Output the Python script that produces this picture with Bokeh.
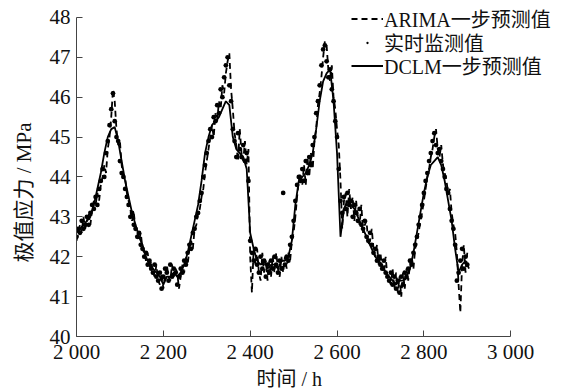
import numpy as np
from bokeh.plotting import figure
from bokeh.models import Range1d, FixedTicker, Legend, LegendItem, Title
from bokeh.embed import file_html
from bokeh.resources import INLINE

# ---- data ----
t_obs = np.arange(2000, 2901, 4)   # hours, 4 h sampling
observed = [
    42.5, 42.7, 42.6, 42.9, 42.7, 42.8, 43.0, 42.8, 43.1, 43.3,
    43.2, 43.5, 43.3, 43.7, 43.9, 44.2, 44.0, 44.6, 44.9, 45.3,
    45.7, 46.1, 45.4, 45.0, 44.9, 44.4, 44.1, 44.0, 43.7, 43.5,
    43.3, 43.0, 43.1, 42.8, 42.7, 42.5, 42.6, 42.3, 42.2, 42.0,
    42.1, 41.8, 41.9, 41.7, 41.6, 41.8, 41.5, 41.4, 41.6, 41.2,
    41.5, 41.7, 41.6, 41.4, 41.8, 41.5, 41.7, 41.6, 41.3, 41.5,
    41.7, 41.6, 41.9, 41.8, 42.1, 42.3, 42.2, 42.6, 42.7, 43.0,
    43.1, 43.4, 43.6, 44.0, 44.3, 44.6, 44.9, 45.2, 45.0, 45.5,
    45.4, 45.8, 45.6, 46.2, 46.0, 46.5, 46.8, 47.0, 46.3, 45.9,
    45.2, 44.9, 44.5, 45.1, 44.7, 44.5, 44.8, 44.4, 44.6, 43.9,
    42.4, 42.1, 41.9, 42.2, 41.8, 41.6, 42.0, 41.7, 41.9, 41.5,
    41.8, 41.6, 41.9, 41.7, 42.0, 41.8, 41.6, 41.9, 41.7, 43.6,
    41.8, 42.0, 41.9, 42.3, 42.5, 42.9, 43.4, 43.8, 44.0, 43.9,
    44.2, 43.9, 44.4, 44.1, 44.5, 44.3, 44.8, 45.0, 45.6, 45.9,
    46.3, 46.8, 47.2, 47.3, 46.9, 46.5, 46.7, 46.2, 45.9, 45.4,
    45.0, 44.2, 43.4, 43.1, 43.5, 43.2, 43.6, 43.3, 43.4, 43.0,
    43.3, 43.1, 42.9, 43.2, 42.8, 42.7, 42.9, 42.5, 42.4, 42.6,
    42.3, 42.1, 42.2, 41.9, 42.0, 41.8, 41.7, 41.9, 41.6, 41.5,
    41.4, 41.6, 41.3, 41.5, 41.2, 41.4, 41.1, 41.5, 41.3, 41.6,
    41.5, 41.7, 41.9, 41.8, 42.1, 42.3, 42.5, 42.8, 43.0, 43.3,
    43.6, 43.9, 44.1, 44.4, 44.6, 44.9, 45.1, 44.8, 44.6, 44.7,
    44.4, 44.2, 44.0, 43.7, 43.6, 43.2, 42.9, 42.7, 42.3, 41.4,
    41.6, 41.9, 42.2, 41.7, 42.0, 41.8,
]
arima = [
    42.4, 42.6, 42.8, 42.6, 43.0, 42.7, 42.9, 43.1, 42.8, 43.2,
    43.4, 43.3, 43.6, 43.4, 43.8, 44.0, 44.3, 44.1, 44.7, 45.0,
    45.5, 46.2, 45.9, 45.2, 44.8, 44.9, 44.3, 44.0, 44.0, 43.6,
    43.4, 43.2, 42.9, 43.1, 42.7, 42.6, 42.4, 42.6, 42.2, 42.1,
    41.9, 42.1, 41.7, 41.9, 41.6, 41.5, 41.8, 41.4, 41.3, 41.6,
    41.2, 41.5, 41.8, 41.5, 41.4, 41.8, 41.5, 41.7, 41.6, 41.2,
    41.5, 41.8, 41.6, 42.0, 41.8, 42.2, 42.4, 42.2, 42.7, 42.8,
    43.1, 43.2, 43.5, 43.7, 44.1, 44.4, 44.7, 45.0, 45.3, 45.0,
    45.6, 45.4, 45.9, 45.7, 46.3, 46.1, 46.6, 46.9, 47.1, 46.2,
    45.7, 45.1, 44.8, 44.4, 45.2, 44.6, 44.4, 44.9, 44.3, 44.7,
    42.0, 41.1, 42.2, 41.8, 42.2, 41.6, 41.4, 42.1, 41.6, 41.9,
    41.4, 41.9, 41.5, 42.0, 41.6, 42.1, 41.7, 41.5, 42.0, 41.6,
    42.0, 41.7, 42.1, 41.9, 42.4, 42.6, 43.0, 43.5, 43.9, 44.1,
    43.8, 44.3, 43.8, 44.5, 44.0, 44.6, 44.2, 44.9, 45.2, 45.8,
    46.1, 46.5, 47.0, 47.4, 47.3, 46.7, 46.4, 46.8, 46.0, 45.7,
    45.2, 44.8, 43.9, 42.7, 43.4, 43.6, 43.0, 43.7, 43.2, 43.5,
    42.9, 43.4, 43.0, 42.8, 43.3, 42.6, 42.8, 42.9, 42.3, 42.4,
    42.7, 42.2, 42.0, 42.3, 41.8, 42.1, 41.7, 41.6, 42.0, 41.5,
    41.4, 41.3, 41.7, 41.2, 41.6, 41.1, 41.5, 41.0, 41.6, 41.2,
    41.7, 41.4, 41.8, 42.0, 41.7, 42.2, 42.4, 42.6, 42.9, 43.1,
    43.4, 43.7, 44.0, 44.2, 44.5, 44.7, 45.0, 45.2, 44.7, 44.5,
    44.8, 44.3, 44.1, 43.9, 43.6, 43.7, 43.1, 42.8, 42.6, 42.1,
    41.3, 40.6, 41.8, 42.3, 41.6, 42.1,
]
t_dclm = np.arange(2000, 2905, 8)   # hours, 8 h sampling
dclm = [
    42.6, 42.7, 42.8, 42.9, 43.0, 43.3, 43.7, 44.1, 44.6, 45.0,
    45.2, 45.25, 44.9, 44.4, 43.9, 43.5, 43.1, 42.8, 42.5, 42.3,
    42.0, 41.8, 41.7, 41.6, 41.5, 41.3, 41.5, 41.5, 41.6, 41.5,
    41.6, 41.8, 42.1, 42.5, 42.9, 43.3, 43.9, 44.6, 45.0, 45.3,
    45.4, 45.5, 45.7, 45.9, 45.8, 45.0, 44.7, 44.6, 44.5, 44.2,
    42.6, 42.2, 41.9, 41.8, 41.9, 41.7, 41.8, 41.8, 41.7, 41.9,
    41.9, 42.0, 42.4, 43.3, 43.9, 44.0, 44.1, 44.3, 44.6, 45.2,
    45.9, 46.4, 46.6, 46.7, 45.9, 44.6, 42.5, 43.2, 43.4, 43.3,
    43.2, 43.0, 42.8, 42.6, 42.4, 42.2, 42.0, 41.9, 41.8, 41.6,
    41.5, 41.4, 41.3, 41.4, 41.4, 41.5, 41.7, 42.1, 42.6, 43.1,
    43.6, 44.0, 44.3, 44.4, 44.5, 44.3, 43.9, 43.4, 42.9, 42.2,
    41.6, 41.8, 41.9, 41.7,
]
x_ticks = [2000, 2200, 2400, 2600, 2800, 3000]
x_tick_labels = ["2 000", "2 200", "2 400", "2 600", "2 800", "3 000"]
y_ticks = [40, 41, 42, 43, 44, 45, 46, 47, 48]
series_names = ["ARIMA一步预测值", "实时监测值", "DCLM一步预测值"]
x_title = "时间 / h"
y_title = "极值应力 / MPa"

FONT = "'Liberation Serif', 'Noto Sans CJK SC'"

# frame spans to the right/top edges so the legend is not clipped;
# axis lines are limited to the data extent with `bounds`
p = figure(width=561, height=392, x_range=Range1d(2000, 3117), y_range=Range1d(40, 48.426),
           output_backend="svg", toolbar_location=None,
           min_border_left=75, min_border_right=0, min_border_top=0, min_border_bottom=56)
p.outline_line_color = None
p.grid.visible = False
p.background_fill_color = "white"

for ax in (p.xaxis[0], p.yaxis[0]):
    ax.major_tick_in = 6
    ax.major_tick_out = 0
    ax.minor_tick_line_color = None
    ax.axis_line_color = "#444444"
    ax.major_tick_line_color = "#444444"
    ax.major_label_text_font = FONT
    ax.major_label_text_font_size = "21px"
    ax.major_label_text_color = "#111111"

p.xaxis.bounds = (2000, 3000)
p.yaxis.bounds = (40, 48)
p.xaxis.ticker = FixedTicker(ticks=x_ticks)
p.xaxis.major_label_overrides = {t: s for t, s in zip(x_ticks, x_tick_labels)}
p.xaxis.major_label_standoff = 3
p.yaxis.ticker = FixedTicker(ticks=y_ticks)
p.yaxis.major_label_standoff = 6

# axis titles placed as side-panel titles so they can be positioned like the reference
xt = Title(text=x_title, align="left", offset=180, standoff=2, vertical_align="top",
           text_font=FONT, text_font_size="20px", text_font_style="normal", text_color="#111111")
p.add_layout(xt, "below")
yt = Title(text=y_title, align="left", offset=74, standoff=20, vertical_align="middle",
           text_font=FONT, text_font_size="21px", text_font_style="normal", text_color="#111111")
p.add_layout(yt, "left")

r_obs = p.scatter(t_obs, observed, marker="dot", size=19, line_color="black", fill_color="black")
r_arima = p.line(t_obs, arima, line_dash="6 4", line_width=1.8, line_color="black")
r_dclm = p.line(t_dclm, dclm, line_width=1.8, line_color="black")

# one legend per entry so the row spacing matches the reference
for name, rend, ypos in zip(series_names, [r_arima, r_obs, r_dclm], [303, 279, 256]):
    lg = Legend(items=[LegendItem(label=name, renderers=[rend])],
                location=(275, ypos), glyph_width=32, glyph_height=23, label_height=23,
                label_standoff=1, spacing=0, padding=0, margin=0,
                border_line_color=None, background_fill_alpha=0,
                label_text_font=FONT, label_text_font_size="20px", label_text_color="#111111")
    p.add_layout(lg)

open("out.html", "w").write(file_html(p, INLINE))
